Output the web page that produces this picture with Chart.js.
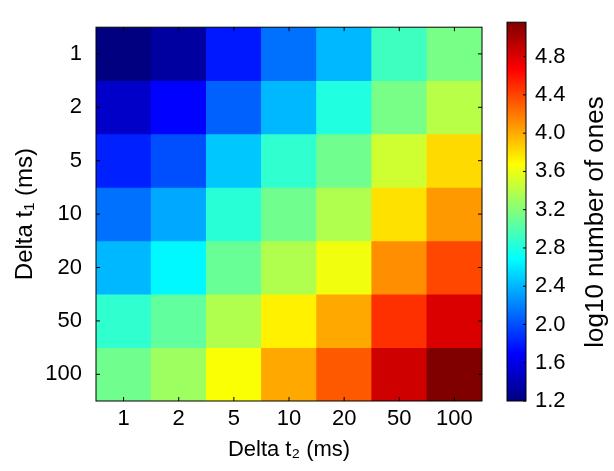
<!DOCTYPE html>
<html>
<head>
<meta charset="utf-8">
<script src="https://cdn.jsdelivr.net/npm/chart.js@4/dist/chart.umd.min.js"></script>
<style>
  body{margin:0;background:#fff}
  #wrap{position:relative;width:614px;height:471px}
  #heatZone{position:absolute;left:0;top:0;width:490px;height:471px}
  #cbZone{position:absolute;left:490px;top:0;width:124px;height:471px}
</style>
</head>
<body>
<div id="wrap">
  <div id="heatZone"><canvas id="heat"></canvas></div>
  <div id="cbZone"><canvas id="cbar"></canvas></div>
</div>
<script>
// axis categories
const t2Labels = ["1","2","5","10","20","50","100"]
const t1Labels = ["1","2","5","10","20","50","100"]

// log10 number of ones, one row per Delta t1 (top to bottom), columns = Delta t2
const row1   = [1.20, 1.33, 1.79, 2.13, 2.41, 2.93, 3.15]
const row2   = [1.48, 1.70, 2.07, 2.41, 2.81, 3.15, 3.40]
const row5   = [1.82, 2.00, 2.47, 2.87, 3.12, 3.49, 3.82]
const row10  = [2.13, 2.35, 2.84, 3.12, 3.37, 3.79, 4.07]
const row20  = [2.41, 2.66, 3.09, 3.37, 3.62, 4.11, 4.39]
const row50  = [2.87, 3.06, 3.37, 3.73, 4.01, 4.48, 4.81]
const row100 = [3.12, 3.30, 3.66, 4.01, 4.32, 4.85, 5.16]
const rows = [row1, row2, row5, row10, row20, row50, row100]

// colour bar
const cbMin = 1.2
const cbMax = 5.16
const cbTicks = [1.2, 1.6, 2.0, 2.4, 2.8, 3.2, 3.6, 4.0, 4.4, 4.8]
const cbTitle = "log10 number of ones"

const txtFont = "'Liberation Sans', Arial, sans-serif"

function clamp(v){ return Math.max(0, Math.min(1, v)) }
function jet(t){
  const r = clamp(1.5 - Math.abs(4*t - 3))
  const g = clamp(1.5 - Math.abs(4*t - 2))
  const b = clamp(1.5 - Math.abs(4*t - 1))
  return `rgb(${Math.round(r*255)},${Math.round(g*255)},${Math.round(b*255)})`
}
function colorOf(v){ return jet((v - cbMin) / (cbMax - cbMin)) }

// frame + inward ticks round the plot
const heatFrame = {
  id: 'heatFrame',
  afterDraw(chart){
    const ctx = chart.ctx
    const a = chart.chartArea
    const xs = chart.scales.x, ys = chart.scales.y
    ctx.save()
    ctx.strokeStyle = '#000'
    ctx.lineWidth = 1
    ctx.strokeRect(a.left, a.top, a.right - a.left, a.bottom - a.top)
    ctx.beginPath()
    t2Labels.forEach((l, i) => {
      const px = xs.getPixelForValue(i)
      ctx.moveTo(px, a.bottom); ctx.lineTo(px, a.bottom - 4)
      ctx.moveTo(px, a.top); ctx.lineTo(px, a.top + 4)
    })
    t1Labels.forEach((l, i) => {
      const py = ys.getPixelForValue(i + 0.5)
      ctx.moveTo(a.left, py); ctx.lineTo(a.left + 4, py)
      ctx.moveTo(a.right, py); ctx.lineTo(a.right - 4, py)
    })
    ctx.stroke()
    ctx.restore()
  }
}

const cbFrame = {
  id: 'cbFrame',
  afterDraw(chart){
    const ctx = chart.ctx
    const a = chart.chartArea
    const ys = chart.scales.y
    ctx.save()
    ctx.strokeStyle = '#000'
    ctx.lineWidth = 1
    ctx.strokeRect(a.left, a.top, a.right - a.left, a.bottom - a.top)
    ctx.beginPath()
    cbTicks.forEach(v => {
      const py = ys.getPixelForValue(v)
      ctx.moveTo(a.right, py); ctx.lineTo(a.right - 3, py)
    })
    ctx.stroke()
    ctx.translate(113, 222)
    ctx.rotate(-Math.PI / 2)
    ctx.fillStyle = '#000'
    ctx.font = "26px " + txtFont
    ctx.textAlign = 'center'
    ctx.textBaseline = 'alphabetic'
    ctx.fillText(cbTitle, 0, 0)
    ctx.restore()
  }
}

const heatDatasets = rows.map((vals, r) => ({
  label: t1Labels[r],
  data: vals.map(() => [r, r + 1]),
  backgroundColor: vals.map(v => colorOf(v)),
  borderWidth: 0,
  barPercentage: 1,
  categoryPercentage: 1,
  grouped: false
}))

const heatConfig = {
  type: 'bar',
  data: { labels: t2Labels, datasets: heatDatasets },
  options: {
    responsive: true,
    maintainAspectRatio: false,
    animation: false,
    layout: { padding: { top: 15, right: 8, left: 0, bottom: 0 } },
    plugins: { legend: { display: false }, tooltip: { enabled: false } },
    scales: {
      x: {
        grid: { display: false, drawTicks: false },
        border: { display: false },
        ticks: { color: '#000', padding: 5, font: { family: txtFont, size: 22 }, maxRotation: 0 },
        title: {
          display: true, text: 'Delta t\u2082 (ms)', color: '#000',
          font: { family: txtFont, size: 22 }, padding: { top: 0, bottom: 8 }
        },
        afterFit(scale){ scale.height = 70 }
      },
      y: {
        type: 'linear',
        min: 0, max: 7,
        reverse: true,
        grid: { display: false, drawTicks: false },
        border: { display: false },
        afterBuildTicks(scale){
          scale.ticks = t1Labels.map((l, i) => ({ value: i + 0.5 }))
        },
        ticks: {
          color: '#000', padding: 14,
          font: { family: txtFont, size: 22 },
          callback: (v, i) => t1Labels[i]
        },
        title: {
          display: true, text: 'Delta t\u2081 (ms)', color: '#000',
          font: { family: txtFont, size: 24 }, padding: { top: 11, bottom: 0 }
        },
        afterFit(scale){ scale.width = 96 }
      }
    }
  },
  plugins: [heatFrame]
}

const cbConfig = {
  type: 'bar',
  data: {
    labels: ['cb'],
    datasets: [{
      data: [[cbMin, cbMax]],
      backgroundColor(context){
        const a = context.chart.chartArea
        if (!a) return null
        const g = context.chart.ctx.createLinearGradient(0, a.bottom, 0, a.top)
        const stops = [0, 0.125, 0.375, 0.625, 0.875, 1]
        stops.forEach(s => g.addColorStop(s, jet(s)))
        return g
      },
      borderWidth: 0,
      barPercentage: 1,
      categoryPercentage: 1
    }]
  },
  options: {
    responsive: true,
    maintainAspectRatio: false,
    animation: false,
    layout: { padding: { top: 15, left: 17, right: 0, bottom: 70 } },
    plugins: { legend: { display: false }, tooltip: { enabled: false } },
    scales: {
      x: { display: false },
      y: {
        position: 'right',
        min: cbMin, max: cbMax,
        grid: { display: false, drawTicks: false },
        border: { display: false },
        afterBuildTicks(scale){
          scale.ticks = cbTicks.map(v => ({ value: v }))
        },
        ticks: {
          color: '#000', padding: 9,
          font: { family: txtFont, size: 22 },
          callback: v => v.toFixed(1)
        },
        afterFit(scale){ scale.width = 88 }
      }
    }
  },
  plugins: [cbFrame]
}

const graphe1 = new Chart(document.getElementById("heat"), heatConfig)
const graphe2 = new Chart(document.getElementById("cbar"), cbConfig)
</script>
</body>
</html>
